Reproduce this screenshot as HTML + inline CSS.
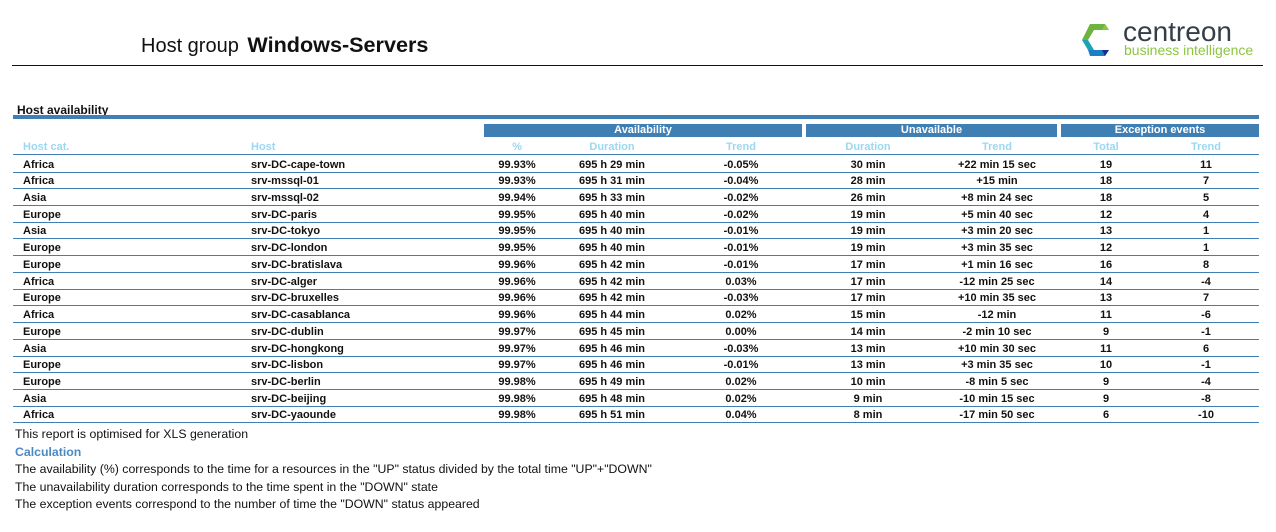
<!DOCTYPE html>
<html><head><meta charset="utf-8"><style>
body{margin:0;width:1276px;height:532px;background:#fff;position:relative;font-family:"Liberation Sans",sans-serif;overflow:hidden}
.a{position:absolute;white-space:nowrap}
.t{font-size:11px;font-weight:bold;color:#111}
.c{transform:translateX(-50%)}
.h{font-size:11px;font-weight:bold;color:#9ad8f2}
.g{position:absolute;top:124px;height:13px;background:#3f7fb4;color:#fff;font-size:11px;font-weight:bold;text-align:center;line-height:13px}
.l{position:absolute;left:13px;width:1246px;height:1px;background:#3f7fb4}
.f{font-size:12.3px;color:#111}
</style></head><body>
<div class="a" style="left:141px;top:32px;font-size:20px;color:#111">Host group <b style="margin-left:3px;font-size:21.6px">Windows-Servers</b></div>
<div class="a" style="left:12px;top:65px;width:1251px;height:1px;background:#111"></div>
<svg class="a" style="left:1080px;top:24px" width="34" height="32" viewBox="0 0 34 32">
<polygon points="10,0 25,0 29,6 14,6 8,16 2,16" fill="#6cb33f"/>
<polygon points="25,0 29,6 22,6" fill="#8cc63f"/>
<polygon points="2,16 8,16 14,26 8,26" fill="#1aa3b0"/>
<polygon points="8,26 14,26 29,26 25,32 10,32" fill="#1e7fc8"/>
<polygon points="22,26 29,26 25,32" fill="#1a2f8a"/>
</svg>
<div class="a" style="left:1123px;top:16px;font-size:28px;color:#333e48">centreon</div>
<div class="a" style="left:1124px;top:42px;font-size:14px;color:#8cc63f">business intelligence</div>
<div class="a" style="left:17px;top:103px;font-size:12px;font-weight:bold;color:#111">Host availability</div>
<div class="a" style="left:13px;top:115px;width:1246px;height:4px;background:#3f7fb4"></div>
<div class="g" style="left:484px;width:318px">Availability</div>
<div class="g" style="left:806px;width:251px">Unavailable</div>
<div class="g" style="left:1061px;width:198px">Exception events</div>
<div class="a h" style="left:23px;top:141px">Host cat.</div>
<div class="a h" style="left:251px;top:141px">Host</div>
<div class="a h c" style="left:517px;top:141px">%</div>
<div class="a h c" style="left:612px;top:141px">Duration</div>
<div class="a h c" style="left:741px;top:141px">Trend</div>
<div class="a h c" style="left:868px;top:141px">Duration</div>
<div class="a h c" style="left:997px;top:141px">Trend</div>
<div class="a h c" style="left:1106px;top:141px">Total</div>
<div class="a h c" style="left:1206px;top:141px">Trend</div>
<div class="l" style="top:154px"></div>
<div id="rows"></div>
<script>
var d=[["Africa","srv-DC-cape-town","99.93%","695 h 29 min","-0.05%","30 min","+22 min 15 sec","19","11"],
["Africa","srv-mssql-01","99.93%","695 h 31 min","-0.04%","28 min","+15 min","18","7"],
["Asia","srv-mssql-02","99.94%","695 h 33 min","-0.02%","26 min","+8 min 24 sec","18","5"],
["Europe","srv-DC-paris","99.95%","695 h 40 min","-0.02%","19 min","+5 min 40 sec","12","4"],
["Asia","srv-DC-tokyo","99.95%","695 h 40 min","-0.01%","19 min","+3 min 20 sec","13","1"],
["Europe","srv-DC-london","99.95%","695 h 40 min","-0.01%","19 min","+3 min 35 sec","12","1"],
["Europe","srv-DC-bratislava","99.96%","695 h 42 min","-0.01%","17 min","+1 min 16 sec","16","8"],
["Africa","srv-DC-alger","99.96%","695 h 42 min","0.03%","17 min","-12 min 25 sec","14","-4"],
["Europe","srv-DC-bruxelles","99.96%","695 h 42 min","-0.03%","17 min","+10 min 35 sec","13","7"],
["Africa","srv-DC-casablanca","99.96%","695 h 44 min","0.02%","15 min","-12 min","11","-6"],
["Europe","srv-DC-dublin","99.97%","695 h 45 min","0.00%","14 min","-2 min 10 sec","9","-1"],
["Asia","srv-DC-hongkong","99.97%","695 h 46 min","-0.03%","13 min","+10 min 30 sec","11","6"],
["Europe","srv-DC-lisbon","99.97%","695 h 46 min","-0.01%","13 min","+3 min 35 sec","10","-1"],
["Europe","srv-DC-berlin","99.98%","695 h 49 min","0.02%","10 min","-8 min 5 sec","9","-4"],
["Asia","srv-DC-beijing","99.98%","695 h 48 min","0.02%","9 min","-10 min 15 sec","9","-8"],
["Africa","srv-DC-yaounde","99.98%","695 h 51 min","0.04%","8 min","-17 min 50 sec","6","-10"]];
var cx=[517,612,741,868,997,1106,1206],h="";
d.forEach(function(r,i){var y=157+i*16.73;
h+='<div class="a t" style="left:23px;top:'+(y+1.5)+'px">'+r[0]+'</div><div class="a t" style="left:251px;top:'+(y+1.5)+'px">'+r[1]+'</div>';
for(var k=0;k<7;k++)h+='<div class="a t c" style="left:'+cx[k]+'px;top:'+(y+1.5)+'px">'+r[k+2]+'</div>';
h+='<div class="l" style="top:'+(y+14.5)+'px"></div>';});
document.getElementById("rows").innerHTML=h;
</script>
<div class="a f" style="left:15px;top:427px">This report is optimised for XLS generation</div>
<div class="a f" style="left:15px;top:445px;color:#4a8ac4;font-weight:bold">Calculation</div>
<div class="a f" style="left:15px;top:462px">The availability (%) corresponds to the time for a resources in the "UP" status divided by the total time "UP"+"DOWN"</div>
<div class="a f" style="left:15px;top:480px">The unavailability duration corresponds to the time spent in the "DOWN" state</div>
<div class="a f" style="left:15px;top:497px">The exception events correspond to the number of time the "DOWN" status appeared</div>
</body></html>
